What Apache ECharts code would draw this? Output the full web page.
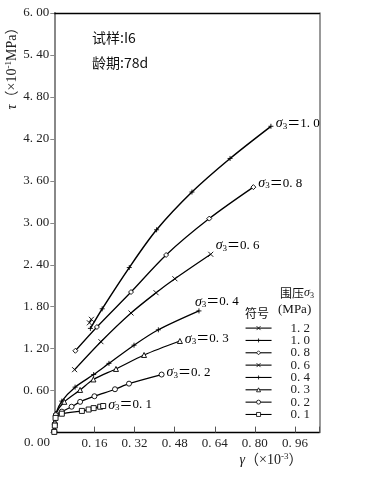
<!DOCTYPE html>
<html><head><meta charset="utf-8">
<script src="https://cdn.jsdelivr.net/npm/echarts@6/dist/echarts.min.js"></script>
<style>html,body{margin:0;padding:0;background:#fff}#c{width:379px;height:477px}</style>
</head><body><div id="c"></div>
<script>
// confining pressure sigma3 (MPa) – series names
const sigmaNames = ['1.2','1.0','0.8','0.6','0.4','0.3','0.2','0.1'];
// gamma (x10^-3) and tau (x10^-1 MPa) for each series
const g12 = [0.140, 0.148];
const t12 = [1.57, 1.62];
const g10 = [0.144, 0.191, 0.299, 0.408, 0.549, 0.701, 0.864];
const t10 = [1.49, 1.77, 2.36, 2.90, 3.44, 3.92, 4.38];
const g08 = [0.084, 0.170, 0.306, 0.446, 0.618, 0.794];
const t08 = [1.17, 1.51, 2.01, 2.54, 3.06, 3.51];
const g06 = [0.081, 0.186, 0.306, 0.406, 0.481, 0.624];
const t06 = [0.90, 1.30, 1.71, 2.00, 2.20, 2.55];
const g04 = [0, 0.002, 0.006, 0.030, 0.083, 0.157, 0.218, 0.318, 0.415, 0.577];
const t04 = [0.03, 0.14, 0.27, 0.45, 0.65, 0.83, 0.99, 1.25, 1.47, 1.74];
const g03 = [0, 0.002, 0.006, 0.040, 0.103, 0.156, 0.246, 0.358, 0.501];
const t03 = [0.05, 0.16, 0.27, 0.44, 0.61, 0.76, 0.91, 1.11, 1.31];
const g02 = [0, 0.002, 0.006, 0.030, 0.069, 0.103, 0.160, 0.242, 0.298, 0.428];
const t02 = [0.02, 0.12, 0.25, 0.30, 0.37, 0.44, 0.52, 0.62, 0.70, 0.83];
const g01 = [0, 0.002, 0.005, 0.030, 0.110, 0.137, 0.157, 0.183, 0.195];
const t01 = [0.01, 0.10, 0.21, 0.27, 0.31, 0.33, 0.35, 0.37, 0.38];
// axis ticks
const xTickStep = 0.16;
const yTickStep = 0.6;

const SERIF = '"Liberation Serif","DejaVu Serif","Noto Sans CJK SC",serif';
const CJK = '"Noto Sans CJK SC",sans-serif';
const XS = 'path://M0,0L10,10M10,0L0,10';
const PS = 'path://M5,0L5,10M0,5L10,5';
const DS = 'path://M5,0L10,5L5,10L0,5Z';
const TS = 'path://M5,0L10,9L0,9Z';
const CS = 'path://M5,0A5,5,0,1,1,5,10A5,5,0,1,1,5,0Z';
const RS = 'path://M0,0L10,0L10,10L0,10Z';

const defs = [
  {name:'1.2', g:g12, t:t12, sym:XS, lw:1.2, lab:false, off:[0,0]},
  {name:'1.0', g:g10, t:t10, sym:PS, lw:1.5, lab:true, off:[0,-3]},
  {name:'0.8', g:g08, t:t08, sym:DS, lw:1.3, lab:true, off:[0,-4]},
  {name:'0.6', g:g06, t:t06, sym:XS, lw:1.3, lab:true, off:[0,-9]},
  {name:'0.4', g:g04, t:t04, sym:PS, lw:1.3, lab:true, off:[-9,-9]},
  {name:'0.3', g:g03, t:t03, sym:TS, lw:1.3, lab:true, off:[0,-2]},
  {name:'0.2', g:g02, t:t02, sym:CS, lw:1.3, lab:true, off:[0,-2]},
  {name:'0.1', g:g01, t:t01, sym:RS, lw:1.3, lab:true, off:[0,-1]}
];
const fmtNum = s => s.replace('.', '. ');
const labRich = {
  s:{fontFamily:SERIF, fontStyle:'italic', fontSize:14, color:'#000'},
  b:{fontFamily:SERIF, fontSize:9, color:'#000', verticalAlign:'bottom', padding:[6,0,0,0]},
  t:{fontFamily:SERIF, fontSize:13, color:'#000'}
};
const series = defs.map(d => ({
  type:'line', name:d.name, smooth:0.3, symbol:d.sym, symbolSize:5,
  lineStyle:{color:'#000', width:d.lw},
  itemStyle:{color:'#fff', borderColor:'#000', borderWidth:0.9},
  z: 3,
  data: d.g.map((x,i) => {
    const item = {value:[x, d.t[i]]};
    if (d.lab && i === d.g.length-1) {
      item.label = {show:true, position:'right', distance:2, offset:d.off,
        formatter:'{s|σ}{b|3}{t|＝' + fmtNum(d.name) + '}', rich:labRich};
    }
    return item;
  })
}));

const chart = echarts.init(document.getElementById('c'), null, {renderer:'canvas'});
chart.setOption({
  animation:false,
  backgroundColor:'#fff',
  grid:{left:54.3, right:59.7, top:13, bottom:44.4, containLabel:false},
  xAxis:[{
    type:'value', min:0, max:1.057, interval:xTickStep,
    axisLine:{show:true, onZero:false, lineStyle:{color:'#000', width:1.4}},
    axisTick:{inside:true, length:6, lineStyle:{color:'#555'}},
    splitLine:{show:false},
    axisLabel:{margin:4, color:'#222', fontFamily:SERIF, fontSize:13,
      formatter:v => (v===0 || Math.abs(v/xTickStep - Math.round(v/xTickStep))>1e-6) ? '' : fmtNum(v.toFixed(2))}
  },{
    type:'value', position:'top', min:0, max:1.057,
    axisLine:{show:true, onZero:false, lineStyle:{color:'#000', width:1.4}},
    axisTick:{show:false}, axisLabel:{show:false}, splitLine:{show:false}
  }],
  yAxis:[{
    type:'value', position:'left', min:0, max:6, interval:yTickStep,
    axisLine:{show:true, onZero:false, lineStyle:{color:'#888', width:2}},
    axisTick:{show:true, inside:false, length:4, lineStyle:{color:'#888'}},
    splitLine:{show:false},
    axisLabel:{margin:5, color:'#222', fontFamily:SERIF, fontSize:13,
      formatter:v => v===0 ? '' : fmtNum(v.toFixed(2))}
  },{
    type:'value', position:'right', min:0, max:6,
    axisLine:{show:true, onZero:false, lineStyle:{color:'#777', width:1.5}},
    axisTick:{show:false}, axisLabel:{show:false}, splitLine:{show:false}
  }],
  legend:{
    show:true, orient:'vertical', left:245, top:321.6,
    itemWidth:26, itemHeight:5, itemGap:-0.66, padding:0,
    data:sigmaNames, selectedMode:false,
    formatter:fmtNum,
    lineStyle:{width:1.1},
    itemStyle:{borderWidth:0.8},
    textStyle:{fontFamily:SERIF, fontSize:13, color:'#222', lineHeight:12.2, padding:[0,0,0,14]}
  },
  series:series,
  graphic:[
    {type:'text', x:12, y:65, rotation:Math.PI/2, style:{
      text:'{a|τ}{b|（×10}{c|-1}{b|MPa）}', align:'center', verticalAlign:'middle',
      rich:{a:{fontFamily:SERIF, fontStyle:'italic', fontSize:14, fill:'#222'},
            b:{fontFamily:SERIF, fontSize:14, fill:'#222'},
            c:{fontFamily:SERIF, fontSize:9, fill:'#222', verticalAlign:'top', padding:[0,0,6,0]}}}},
    {type:'text', x:271, y:460, style:{
      text:'{a|γ}{b|（×10}{c|-3}{b|）}', align:'center', verticalAlign:'middle',
      rich:{a:{fontFamily:SERIF, fontStyle:'italic', fontSize:14, fill:'#222'},
            b:{fontFamily:SERIF, fontSize:14, fill:'#222'},
            c:{fontFamily:SERIF, fontSize:9, fill:'#222', verticalAlign:'top', padding:[0,0,6,0]}}}},
    {type:'text', x:50, y:443, style:{text:'0. 00', align:'right', verticalAlign:'middle', font:'13px ' + SERIF, fill:'#222'}},
    {type:'text', x:92, y:38, style:{text:'试样:I6', align:'left', verticalAlign:'middle', font:'14px ' + CJK, fill:'#111'}},
    {type:'text', x:92, y:63, style:{text:'龄期:78d', align:'left', verticalAlign:'middle', font:'14px ' + CJK, fill:'#111'}},
    {type:'text', x:280, y:293, style:{
      text:'{a|围压}{s|σ}{b|3}', align:'left', verticalAlign:'middle',
      rich:{a:{fontFamily:CJK, fontSize:12, fill:'#111'},
            s:{fontFamily:SERIF, fontStyle:'italic', fontSize:12, fill:'#111'},
            b:{fontFamily:SERIF, fontSize:8, fill:'#111', verticalAlign:'bottom', padding:[5,0,0,0]}}}},
    {type:'text', x:278, y:310, style:{text:'(MPa)', align:'left', verticalAlign:'middle', font:'13px ' + SERIF, fill:'#111'}},
    {type:'text', x:245, y:313, style:{text:'符号', align:'left', verticalAlign:'middle', font:'12px ' + CJK, fill:'#111'}}
  ]
});
</script></body></html>
